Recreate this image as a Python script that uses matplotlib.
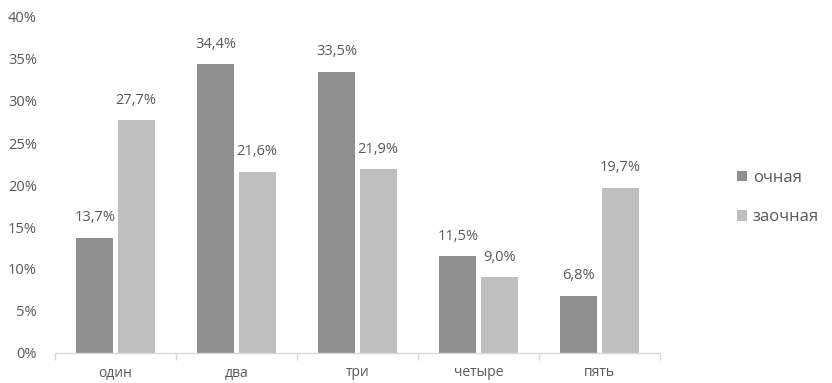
import numpy as np
import matplotlib.pyplot as plt
from matplotlib.ticker import FixedLocator, PercentFormatter

categories = ["один", "два", "три", "четыре", "пять"]
full_time = [13.7, 34.4, 33.5, 11.5, 6.8]
part_time = [27.7, 21.6, 21.9, 9.0, 19.7]
series_names = ["очная", "заочная"]

DARK = "#8f8f8f"
LIGHT = "#bfbfbf"
TEXT = "#595959"

plt.rcParams["font.family"] = ["Open Sans", "DejaVu Sans"]

fig = plt.figure(figsize=(8.32, 3.83), dpi=100)
ax = fig.add_axes([55 / 832, 1 - 353 / 383, 605 / 832, 336 / 383])

x = np.arange(len(categories))
width = 0.305
offset = 0.17
b1 = ax.bar(x - offset, full_time, width, color=DARK, label=series_names[0])
b2 = ax.bar(x + offset, part_time, width, color=LIGHT, label=series_names[1])

for bars, vals in ((b1, full_time), (b2, part_time)):
    for rect, v in zip(bars, vals):
        ax.annotate(f"{v:.1f}%".replace(".", ","),
                    (rect.get_x() + rect.get_width() / 2, v),
                    xytext=(0, 9), textcoords="offset points",
                    ha="center", va="bottom", fontsize=10.5, color=TEXT)

ax.set_xlim(-0.5, len(categories) - 0.5)
ax.set_ylim(0, 40)
ax.set_yticks(np.arange(0, 41, 5))
ax.yaxis.set_major_formatter(PercentFormatter(decimals=0))
ax.set_xticks(x)
ax.set_xticklabels(categories)
ax.xaxis.set_minor_locator(FixedLocator(np.arange(-0.5, len(categories), 1)))

ax.tick_params(axis="y", length=0, pad=13, labelsize=10.5, labelcolor=TEXT)
ax.tick_params(axis="x", which="major", length=0, pad=9, labelsize=10, labelcolor=TEXT)
ax.tick_params(axis="x", which="minor", length=5, color="#d9d9d9", width=1)

for side in ("left", "right", "top"):
    ax.spines[side].set_visible(False)
ax.spines["bottom"].set_color("#d9d9d9")
ax.spines["bottom"].set_linewidth(1)

fig.legend(handles=[b1, b2], labels=series_names, loc="upper left",
           bbox_to_anchor=(722 / 832, 1 - 155 / 383), frameon=False,
           fontsize=12, labelcolor=TEXT, handlelength=0.6, handleheight=0.6,
           handletextpad=0.35, labelspacing=1.4)

fig.savefig("out.png", dpi=100)
